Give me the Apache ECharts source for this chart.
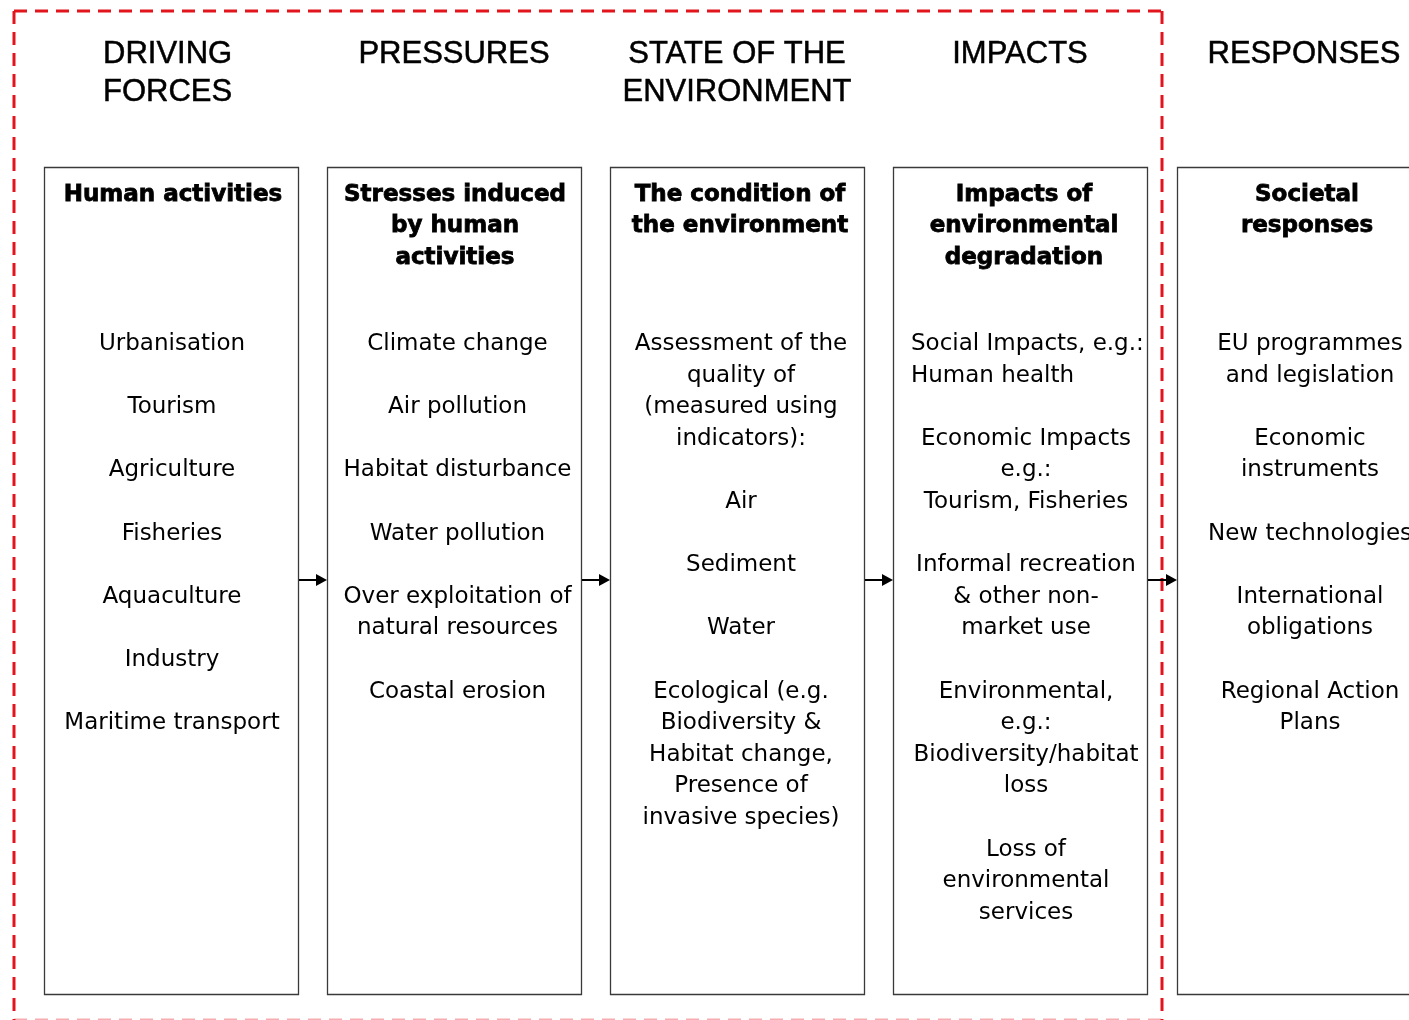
<!DOCTYPE html>
<html><head><meta charset="utf-8">
<script src="https://cdn.jsdelivr.net/npm/echarts@6/dist/echarts.min.js"></script>
<style>html,body{margin:0;padding:0;background:#fff;overflow:hidden}#c{width:1409px;height:1020px}</style>
</head><body><div id="c"></div><script>
// ---- content ----
const stageHeadings = [['DRIVING', 'FORCES'], ['PRESSURES'], ['STATE OF THE', 'ENVIRONMENT'], ['IMPACTS'], ['RESPONSES']];
const boxTitles = [
  ['Human activities'],
  ['Stresses induced', 'by human', 'activities'],
  ['The condition of', 'the environment'],
  ['Impacts of', 'environmental', 'degradation'],
  ['Societal', 'responses']
];
const drivingForces = [['Urbanisation'], ['Tourism'], ['Agriculture'], ['Fisheries'], ['Aquaculture'], ['Industry'], ['Maritime transport']];
const pressures = [['Climate change'], ['Air pollution'], ['Habitat disturbance'], ['Water pollution'], ['Over exploitation of', 'natural resources'], ['Coastal erosion']];
const stateItems = [['Assessment of the', 'quality of', '(measured using', 'indicators):'], ['Air'], ['Sediment'], ['Water'], ['Ecological (e.g.', 'Biodiversity &', 'Habitat change,', 'Presence of', 'invasive species)']];
const impacts = [['Social Impacts, e.g.:', 'Human health'], ['Economic Impacts', 'e.g.:', 'Tourism, Fisheries'], ['Informal recreation', '& other non-', 'market use'], ['Environmental,', 'e.g.:', 'Biodiversity/habitat', 'loss'], ['Loss of', 'environmental', 'services']];
const responses = [['EU programmes', 'and legislation'], ['Economic', 'instruments'], ['New technologies'], ['International', 'obligations'], ['Regional Action', 'Plans']];
const boxItems = [drivingForces, pressures, stateItems, impacts, responses];

// ---- layout ----
const boxLeft = [44, 327, 610, 893, 1177];
const boxW = 254, boxTop = 167, boxBottom = 994;
const bodyShift = [1, 3.5, 4, 6, 6];
const titleShift = [2, 1, 3, 4, 3];
const headY = 54, headPitch = 38;
const titleY = 195, titlePitch = 31.5;
const bodyY = 344, bodyPitch = 31.6;
const arrowY = 580;
const leftAligned = {'3-0': 911};
const dashColor = '#e2151d';

const headFont = 'normal 31px "Liberation Sans", Arial, sans-serif';
const titleFont = 'bold 23px "DejaVu Sans", Verdana, sans-serif';
const bodyFont = 'normal 23px "DejaVu Sans", Verdana, sans-serif';

const g = [];
function txt(x, y, s, font, align, strokeW) {
  const st = {x: x, y: y, text: s, font: font, fill: '#000', textAlign: align || 'center', textVerticalAlign: 'middle'};
  if (strokeW) { st.stroke = '#000'; st.lineWidth = strokeW; }
  g.push({type: 'text', silent: true, z: 10, style: st});
}

boxLeft.forEach((bx, i) => {
  g.push({type: 'rect', silent: true, shape: {x: bx + 0.5, y: boxTop + 0.5, width: boxW, height: boxBottom - boxTop}, style: {fill: '#fff', stroke: '#3a3a3a', lineWidth: 1.3}});
  const mid = bx + boxW / 2;
  stageHeadings[i].forEach((s, k) => {
    if (i === 0) txt(103, headY + k * headPitch, s, headFont, 'left', 0.5);
    else txt(mid, headY + k * headPitch, s, headFont, 'center', 0.5);
  });
  boxTitles[i].forEach((s, k) => txt(mid + titleShift[i], titleY + k * titlePitch, s, titleFont, 'center', 0.8));
  let line = 0;
  boxItems[i].forEach((item, j) => {
    const lx = leftAligned[i + '-' + j];
    item.forEach((s) => {
      if (lx !== undefined) txt(lx, bodyY + line * bodyPitch, s, bodyFont, 'left');
      else txt(mid + bodyShift[i], bodyY + line * bodyPitch, s, bodyFont, 'center');
      line++;
    });
    line++; // blank line between items
  });
  if (i < boxLeft.length - 1) {
    const x1 = bx + boxW + 1, x2 = boxLeft[i + 1];
    g.push({type: 'line', silent: true, z: 12, shape: {x1: x1, y1: arrowY, x2: x2 - 9, y2: arrowY}, style: {stroke: '#000', lineWidth: 2}});
    g.push({type: 'polygon', silent: true, z: 12, shape: {points: [[x2 - 11, arrowY - 6], [x2, arrowY], [x2 - 11, arrowY + 6]]}, style: {fill: '#000'}});
  }
});

// dashed frame
const dash = {stroke: dashColor, lineWidth: 3, lineDash: [13, 8]};
g.push({type: 'line', silent: true, z: 11, shape: {x1: 14, y1: 11, x2: 1162, y2: 11}, style: dash});
g.push({type: 'line', silent: true, z: 11, shape: {x1: 14, y1: 11, x2: 14, y2: 1022}, style: dash});
g.push({type: 'line', silent: true, z: 11, shape: {x1: 1162, y1: 11, x2: 1162, y2: 1022}, style: dash});
g.push({type: 'line', silent: true, z: 11, shape: {x1: 14, y1: 1020, x2: 1162, y2: 1020}, style: Object.assign({}, dash, {opacity: 0.35})});

const chart = echarts.init(document.getElementById('c'), null, {renderer: 'canvas'});
chart.setOption({animation: false, backgroundColor: '#fff', graphic: {elements: g}});
</script></body></html>
